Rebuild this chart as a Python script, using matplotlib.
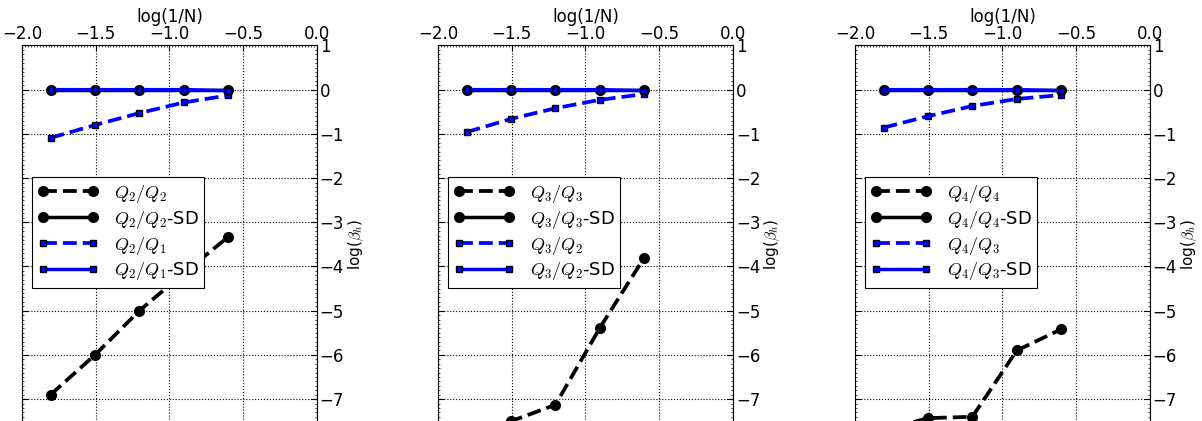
import numpy as np
import matplotlib
matplotlib.use("Agg")
import matplotlib.pyplot as plt
from matplotlib.ticker import MultipleLocator, FixedLocator

plt.rcParams['mathtext.fontset'] = 'cm'
plt.rcParams['font.size'] = 12

# log10(1/N) for N = 64, 32, 16, 8, 4
logN = [-1.806, -1.505, -1.204, -0.903, -0.602]

# panel 1
p1_same = [-6.9, -6.0, -5.0, -4.15, -3.33]
p1_same_sd = [0.0, 0.0, 0.0, 0.0, 0.0]
p1_low = [-1.09, -0.80, -0.53, -0.29, -0.13]
p1_low_sd = [0.0, 0.0, 0.0, 0.0, -0.02]
# panel 2
p2_same = [-7.9, -7.5, -7.13, -5.39, -3.80]
p2_same_sd = [0.0, 0.0, 0.0, 0.0, 0.0]
p2_low = [-0.96, -0.66, -0.42, -0.23, -0.10]
p2_low_sd = [0.0, 0.0, 0.0, 0.0, -0.02]
# panel 3
p3_same = [-7.7, -7.43, -7.40, -5.90, -5.42]
p3_same_sd = [0.0, 0.0, 0.0, 0.0, 0.0]
p3_low = [-0.86, -0.60, -0.37, -0.21, -0.12]
p3_low_sd = [0.0, 0.0, 0.0, 0.0, -0.02]

yticks = [-7, -6, -5, -4, -3, -2, -1, 0, 1]

labels = [
    [r'$Q_2/Q_2$', r'$Q_2/Q_2$-SD', r'$Q_2/Q_1$', r'$Q_2/Q_1$-SD'],
    [r'$Q_3/Q_3$', r'$Q_3/Q_3$-SD', r'$Q_3/Q_2$', r'$Q_3/Q_2$-SD'],
    [r'$Q_4/Q_4$', r'$Q_4/Q_4$-SD', r'$Q_4/Q_3$', r'$Q_4/Q_3$-SD'],
]
data = [
    (p1_same, p1_same_sd, p1_low, p1_low_sd),
    (p2_same, p2_same_sd, p2_low, p2_low_sd),
    (p3_same, p3_same_sd, p3_low, p3_low_sd),
]

fig = plt.figure(figsize=(12.02, 4.21), dpi=100)
lefts = [0.0183, 0.3644, 0.7113]

for k in range(3):
    ax = fig.add_axes([lefts[k], -0.053, 0.2454, 0.945])
    same, same_sd, low, low_sd = data[k]
    lb = labels[k]
    ax.plot(logN, same, 'k--', lw=2.7, marker='o', ms=7, label=lb[0])
    ax.plot(logN, same_sd, 'k-', lw=2.5, marker='o', ms=7, label=lb[1])
    ax.plot(logN, low, 'b--', lw=2.7, marker='s', ms=4, mec='k', label=lb[2])
    ax.plot(logN, low_sd, 'b-', lw=2.5, marker='s', ms=4, mec='k', label=lb[3])

    ax.set_xlim(-2.0, 0.0)
    ax.set_ylim(-8, 1)
    ax.xaxis.set_major_locator(MultipleLocator(0.5))
    ax.yaxis.set_major_locator(FixedLocator(yticks))
    ax.xaxis.set_minor_locator(MultipleLocator(0.02))
    ax.yaxis.set_minor_locator(MultipleLocator(0.1))
    ax.xaxis.tick_top()
    ax.xaxis.set_label_position('top')
    ax.yaxis.tick_right()
    ax.yaxis.set_label_position('right')
    ax.tick_params(which='both', direction='in', top=True, bottom=True,
                   left=True, right=True, labelsize=12)
    ax.tick_params(which='major', length=4, pad=2)
    ax.tick_params(which='minor', length=1.5, width=0.5)
    ax.set_xlabel('log(1/N)', fontsize=12, labelpad=2)
    ax.set_ylabel(r'log($\beta_h$)', fontsize=11, labelpad=2)
    ax.grid(True, linestyle=':', color='k', lw=0.8)
    leg = ax.legend(loc='upper left', bbox_to_anchor=(0.033, 0.669),
                    borderaxespad=0, fancybox=False, framealpha=1,
                    edgecolor='k', handlelength=3.4, fontsize=13,
                    labelspacing=0.22, numpoints=2, handletextpad=0.85,
                    borderpad=0.3)
    leg.get_frame().set_linewidth(0.8)

fig.savefig('out.png', dpi=100)
